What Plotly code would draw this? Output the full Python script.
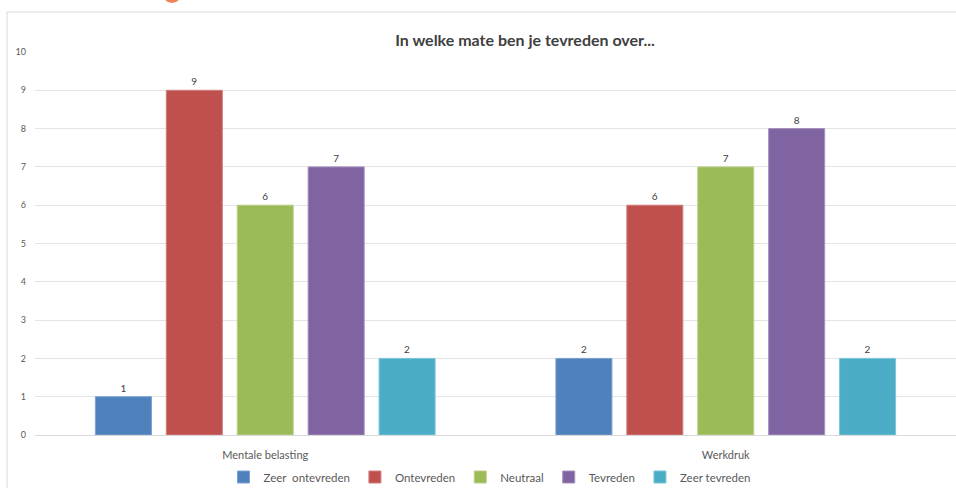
import plotly.graph_objects as go

categories = ["Mentale belasting", "Werkdruk"]
series_names = ["Zeer\u00a0 ontevreden", "Ontevreden", "Neutraal", "Tevreden", "Zeer tevreden"]
zeer_ontevreden = [1, 2]
ontevreden = [9, 6]
neutraal = [6, 7]
tevreden = [7, 8]
zeer_tevreden = [2, 2]
y_ticks = list(range(0, 11))

values = [zeer_ontevreden, ontevreden, neutraal, tevreden, zeer_tevreden]
colors = ["#4F81BD", "#C0504D", "#9BBB59", "#8064A2", "#4BACC6"]
edges = ["#7DA2D0", "#D07F7D", "#B9D08A", "#A490BE", "#7DC4D8"]

W, H = 956, 488
ML, MR, MT, MB = 35, 0, 52, 53
PW = W - ML - MR
PH = H - MT - MB

def px(x):
    return (x - ML) / PW

def py(y):
    return (H - MB - y) / PH

fig = go.Figure()
for name, vals, c, e in zip(series_names, values, colors, edges):
    fig.add_trace(go.Bar(
        x=categories, y=vals, name=name,
        marker=dict(color=c, line=dict(color=e, width=1)),
        text=[str(v) for v in vals], textposition="outside",
        textfont=dict(size=10, color="#404040", family="Lato"),
        cliponaxis=False,
    ))

fig.update_layout(
    width=W, height=H,
    margin=dict(l=ML, r=MR, t=MT, b=MB),
    paper_bgcolor="white", plot_bgcolor="white",
    font=dict(family="Lato", color="#595959"),
    barmode="group", bargap=0.23, bargroupgap=0.21,
    title=dict(text="<b>In welke mate ben je tevreden over...</b>",
               x=px(525), xref="paper", xanchor="center",
               y=1 - 40 / H, yanchor="middle",
               font=dict(size=16, color="#404040", family="Lato")),
    showlegend=True,
    legend=dict(orientation="h", x=px(490), xanchor="center",
                yref="container", y=(H - 477) / H, yanchor="middle",
                bgcolor="rgba(0,0,0,0)",
                font=dict(size=11.5, color="#595959"),
                itemwidth=30, tracegroupgap=0),
    xaxis=dict(showgrid=False, showline=False, ticks="",
               tickfont=dict(size=11, color="#595959"),
               ticklabelstandoff=12,
               range=[-0.5, 1.5]),
    yaxis=dict(range=[0, 10], tickvals=y_ticks, showgrid=True,
               gridcolor="#E4E4E4", gridwidth=1, zeroline=True,
               zerolinecolor="#D9D9D9", zerolinewidth=1,
               tickfont=dict(size=9, color="#595959"), ticks="",
               ticklabelstandoff=8, fixedrange=True),
)

# chart area border (cropped on the right and bottom)
fig.add_shape(type="rect", xref="paper", yref="paper",
              x0=px(7), x1=px(W + 20), y0=py(H + 20), y1=py(12),
              line=dict(color="#D9D9D9", width=1), layer="below")
# partial orange logo at top
fig.add_shape(type="circle", xref="paper", yref="paper",
              x0=px(160), x1=px(184), y0=py(3), y1=py(-30),
              line=dict(width=0), fillcolor="#EE8357")

fig.write_html("out.html")
